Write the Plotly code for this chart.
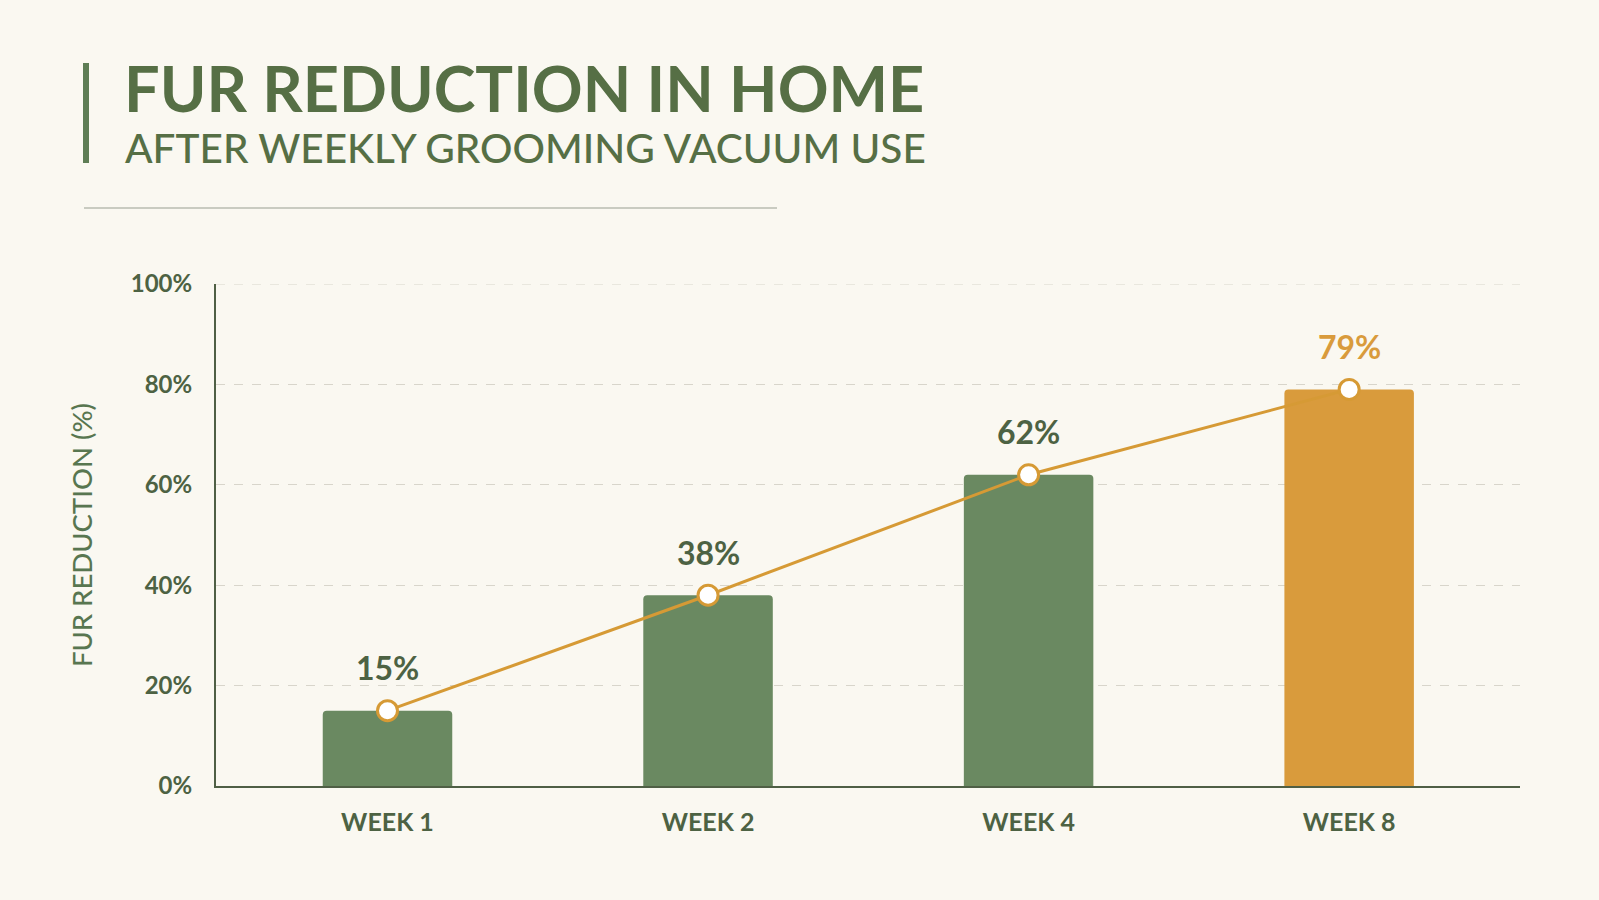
import plotly.graph_objects as go

# ---- data ----
categories = ["WEEK 1", "WEEK 2", "WEEK 4", "WEEK 8"]
reduction = [15, 38, 62, 79]
value_labels = ["15%", "38%", "62%", "79%"]
y_ticks = [0, 20, 40, 60, 80, 100]
y_tick_labels = ["0%", "20%", "40%", "60%", "80%", "100%"]

# ---- style ----
BG = "#faf8f1"
GREEN = "#6a8961"
ORANGE = "#d99b3c"
LINE = "#d69a35"
TEXT = "#4d6243"
TITLE = "#566f45"
FONT = "Lato"

W, H = 1599, 900
L, R, T, B = 216, 79, 284, 114
PW, PH = W - L - R, H - T - B


def px(x):
    return (x - L) / PW


def py(y):
    return (H - B - y) / PH


bar_colors = [GREEN, GREEN, GREEN, ORANGE]
label_colors = [TEXT, TEXT, TEXT, ORANGE]

fig = go.Figure()
fig.add_trace(go.Bar(
    x=list(range(len(categories))), y=reduction, width=0.404,
    marker=dict(color=bar_colors, line=dict(width=0), cornerradius=4),
    hoverinfo="skip", showlegend=False,
))
fig.add_trace(go.Scatter(
    x=list(range(len(categories))), y=reduction, mode="lines+markers",
    line=dict(color=LINE, width=3),
    marker=dict(size=20, color="white", line=dict(color=LINE, width=3)),
    hoverinfo="skip", showlegend=False,
))

annotations = []
for i, (v, t, col) in enumerate(zip(reduction, value_labels, label_colors)):
    annotations.append(dict(
        x=i, y=v, xref="x", yref="y", text=f"<b>{t}</b>", showarrow=False,
        yanchor="middle", yshift=43,
        font=dict(family=FONT, size=32, color=col),
    ))

annotations += [
    dict(xref="paper", yref="paper", x=px(122), y=py(88), xanchor="left", yanchor="middle",
         text="<b>FUR REDUCTION IN HOME</b>", showarrow=False,
         font=dict(family=FONT, size=63, color=TITLE, weight=800)),
    dict(xref="paper", yref="paper", x=px(123), y=py(147), xanchor="left", yanchor="middle",
         text="AFTER WEEKLY GROOMING VACUUM USE", showarrow=False,
         font=dict(family=FONT, size=40.5, color=TITLE, weight=500)),
]

shapes = [
    dict(type="rect", xref="paper", yref="paper", x0=px(83), x1=px(89), y0=py(163), y1=py(63),
         fillcolor="#5e7d55", line=dict(width=0), layer="above"),
    dict(type="line", xref="paper", yref="paper", x0=px(84), x1=px(777), y0=py(208), y1=py(208),
         line=dict(color="#b9bdb0", width=1.5)),
    dict(type="line", xref="paper", yref="y", x0=0, x1=1, y0=y_ticks[-1], y1=y_ticks[-1],
         line=dict(color="#d8d5cb", width=1, dash="dash"), layer="below"),
]

fig.update_layout(
    width=W, height=H,
    margin=dict(l=L, r=R, t=T, b=B, autoexpand=False),
    paper_bgcolor=BG, plot_bgcolor=BG,
    annotations=annotations, shapes=shapes,
    xaxis=dict(
        range=[-0.535, 3.533],
        tickvals=list(range(len(categories))), ticktext=categories,
        showline=True, linecolor="#4f5f45", linewidth=2,
        showgrid=False, zeroline=False, ticks="", ticklabelstandoff=13,
        tickfont=dict(family=FONT, size=25, color=TEXT, weight="bold"),
        fixedrange=True,
    ),
    yaxis=dict(
        range=[0, 100], tickvals=y_ticks, ticktext=y_tick_labels,
        showline=True, linecolor="#4f5f45", linewidth=2,
        showgrid=True, gridcolor="#d8d5cb", griddash="dash", gridwidth=1,
        zeroline=False, ticks="", ticklabelstandoff=17,
        tickfont=dict(family=FONT, size=24, color=TEXT, weight="bold"),
        title=dict(text="FUR REDUCTION (%)", standoff=30,
                   font=dict(family=FONT, size=27.5, color="#587650", weight=500)),
        fixedrange=True,
    ),
)

fig.write_html("out.html")
